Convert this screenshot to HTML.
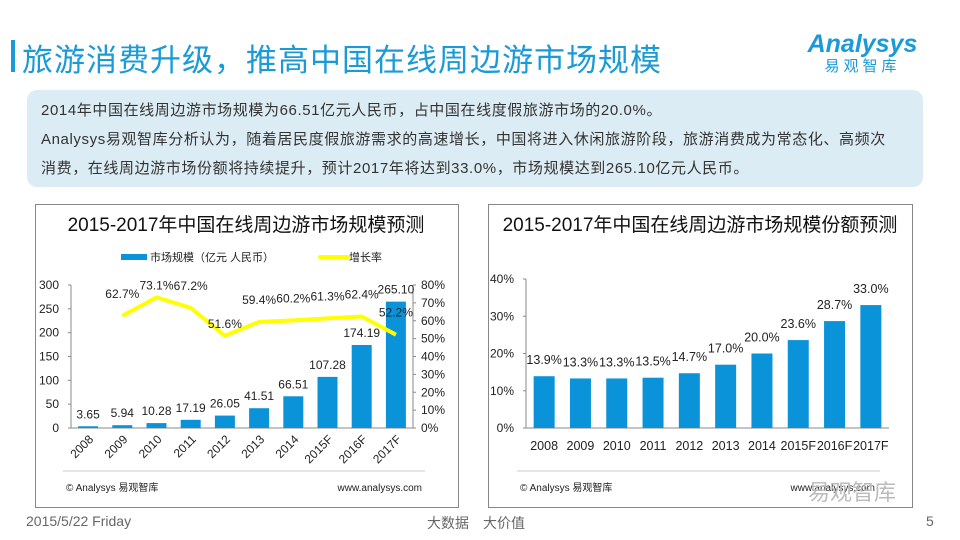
<!DOCTYPE html>
<html><head><meta charset="utf-8"><style>
body{margin:0;width:960px;height:540px;background:#fff;font-family:"Liberation Sans","Noto Sans CJK SC",sans-serif;position:relative;overflow:hidden}
.abs{position:absolute}
</style></head><body>
<div class="abs" style="left:11px;top:40px;width:4px;height:32px;background:#1a9ad6"></div>
<div class="abs" style="left:22px;top:35px;font-size:31px;letter-spacing:1px;color:#1a9ad6;white-space:nowrap">旅游消费升级，推高中国在线周边游市场规模</div>
<div class="abs" style="left:795px;top:30px;width:135px;text-align:center">
<div style="font-size:25px;font-style:italic;font-weight:bold;color:#1a9ad6;line-height:28px">Analysys</div>
<div style="font-size:15px;color:#1a9ad6;letter-spacing:4px;line-height:18px">易观智库</div></div>
<div class="abs" style="left:27px;top:90px;width:896px;height:97px;background:#dcecf4;border-radius:10px"></div>
<div class="abs" style="left:41px;top:96px;width:880px;font-size:15px;letter-spacing:0.6px;line-height:29px;color:#333;white-space:nowrap">2014年中国在线周边游市场规模为66.51亿元人民币，占中国在线度假旅游市场的20.0%。<br>Analysys易观智库分析认为，随着居民度假旅游需求的高速增长，中国将进入休闲旅游阶段，旅游消费成为常态化、高频次<br>消费，在线周边游市场份额将持续提升，预计2017年将达到33.0%，市场规模达到265.10亿元人民币。</div>
<svg class="abs" style="left:0;top:0" width="960" height="540" id="svg" font-family="Liberation Sans, Noto Sans CJK SC, sans-serif"></svg>
<div class="abs" style="left:26px;top:513px;font-size:14px;color:#666">2015/5/22 Friday</div>
<div class="abs" style="left:427px;top:513px;font-size:14px;color:#666">大数据　大价值</div>
<div class="abs" style="left:926px;top:513px;font-size:14px;color:#666">5</div>
<script>
const years=["2008","2009","2010","2011","2012","2013","2014","2015F","2016F","2017F"];
const sizeValues=[3.65,5.94,10.28,17.19,26.05,41.51,66.51,107.28,174.19,265.10];
const sizeLabels=["3.65","5.94","10.28","17.19","26.05","41.51","66.51","107.28","174.19","265.10"];
const growthValues=[null,62.7,73.1,67.2,51.6,59.4,60.2,61.3,62.4,52.2];
const leftTicks=[0,50,100,150,200,250,300];
const rightTicks=[0,10,20,30,40,50,60,70,80];
const shareValues=[13.9,13.3,13.3,13.5,14.7,17.0,20.0,23.6,28.7,33.0];
const shareTicks=[0,10,20,30,40];
const svg=document.getElementById('svg');const NS='http://www.w3.org/2000/svg';
function mk(t,a,txt){const e=document.createElementNS(NS,t);for(const k in a)e.setAttribute(k,a[k]);if(txt!=null)e.textContent=txt;svg.appendChild(e);return e;}
let f=mk('rect',{x:35.5,y:204.5,width:423,height:303,fill:'none',stroke:'#888'});

f=mk('rect',{x:488.5,y:204.5,width:424,height:303,fill:'none',stroke:'#888'});

let t=mk('text',{x:246,y:231,'font-size':19,'text-anchor':'middle',fill:'#111'},'2015-2017年中国在线周边游市场规模预测');

t=mk('text',{x:700,y:231,'font-size':19,'text-anchor':'middle',fill:'#111'},'2015-2017年中国在线周边游市场规模份额预测');

let l=mk('rect',{x:121,y:254,width:26,height:6,fill:'#0b93d9'});
l=mk('text',{x:150,y:261,'font-size':11,fill:'#222'},'市场规模（亿元 人民币）');
l=mk('line',{x1:320,y1:257,x2:348,y2:257,stroke:'#ffff00','stroke-width':4,'stroke-linecap':'round'});
l=mk('text',{x:349,y:261,'font-size':11,fill:'#222'},'增长率');
const L={x0:71,x1:413,y0:428,y1:285};
const ly=v=>L.y0-(v/300)*(L.y0-L.y1);
const ry=v=>L.y0-(v/80)*(L.y0-L.y1);
const lbw=(L.x1-L.x0)/years.length;const lx=i=>L.x0+lbw*(i+0.5);
mk('line',{x1:L.x0,y1:L.y1,x2:L.x0,y2:L.y0,stroke:'#888'});
mk('line',{x1:L.x1,y1:L.y1,x2:L.x1,y2:L.y0,stroke:'#888'});
mk('line',{x1:L.x0,y1:L.y0,x2:L.x1,y2:L.y0,stroke:'#888'});
leftTicks.forEach(v=>{mk('line',{x1:L.x0-3,y1:ly(v),x2:L.x0,y2:ly(v),stroke:'#888'});
 const e=mk('text',{x:L.x0-12,y:ly(v)+4,'font-size':12,'text-anchor':'end',fill:'#222'},v);});
rightTicks.forEach(v=>{mk('line',{x1:L.x1,y1:ry(v),x2:L.x1+3,y2:ry(v),stroke:'#888'});
 const e=mk('text',{x:L.x1+8,y:ry(v)+4,'font-size':12,fill:'#222'},v+'%');});
sizeValues.forEach((v,i)=>{const b=mk('rect',{x:lx(i)-10,y:ly(v),width:20,height:L.y0-ly(v),fill:'#0b93d9'});
 
 const e=mk('text',{x:lx(i),y:ly(v)-8,'font-size':12,'text-anchor':'middle',fill:'#222'},sizeLabels[i]);
 const y=mk('text',{x:0,y:0,'font-size':12,'text-anchor':'end',fill:'#222',transform:`translate(${lx(i)+6},${L.y0+12}) rotate(-45)`},years[i]);});
let pts=[];growthValues.forEach((v,i)=>{if(v!=null)pts.push(lx(i)+','+ry(v));});
const pl=mk('polyline',{points:pts.join(' '),fill:'none',stroke:'#ffff00','stroke-width':4,'stroke-linejoin':'round'});

growthValues.forEach((v,i)=>{if(v==null)return;const e=mk('text',{x:lx(i),y:ry(v)-(i===2||i===4?8:18),'font-size':12,'text-anchor':'middle',fill:'#222'},v.toFixed(1)+'%');
 });
mk('line',{x1:63,y1:471,x2:425,y2:471,stroke:'#ccc'});
t=mk('text',{x:66,y:491,'font-size':10,fill:'#222'},'© Analysys 易观智库');
t=mk('text',{x:422,y:491,'font-size':10,'text-anchor':'end',fill:'#222'},'www.analysys.com');
const R={x0:526,x1:889,y0:428,y1:279};
const sy=v=>R.y0-(v/40)*(R.y0-R.y1);const rbw=(R.x1-R.x0)/years.length;const sx=i=>R.x0+rbw*(i+0.5);
mk('line',{x1:R.x0,y1:R.y1,x2:R.x0,y2:R.y0,stroke:'#888'});
mk('line',{x1:R.x0,y1:R.y0,x2:R.x1,y2:R.y0,stroke:'#888'});
shareTicks.forEach(v=>{mk('line',{x1:R.x0-3,y1:sy(v),x2:R.x0,y2:sy(v),stroke:'#888'});
 const e=mk('text',{x:R.x0-12,y:sy(v)+4,'font-size':12,'text-anchor':'end',fill:'#222'},v+'%');});
shareValues.forEach((v,i)=>{const b=mk('rect',{x:sx(i)-10.5,y:sy(v),width:21,height:R.y0-sy(v),fill:'#0b93d9'});
 
 const e=mk('text',{x:sx(i),y:sy(v)-12,'font-size':12.5,'text-anchor':'middle',fill:'#222'},v.toFixed(1)+'%');
 const y=mk('text',{x:sx(i),y:450,'font-size':12.5,'text-anchor':'middle',fill:'#222'},years[i]);});
mk('line',{x1:517,y1:471,x2:880,y2:471,stroke:'#ccc'});
t=mk('text',{x:520,y:491,'font-size':10,fill:'#222'},'© Analysys 易观智库');
t=mk('text',{x:875,y:491,'font-size':10,'text-anchor':'end',fill:'#222'},'www.analysys.com');
t=mk('text',{x:808,y:500,'font-size':22,fill:'#bbb'},'易观智库');
</script>
</body></html>
